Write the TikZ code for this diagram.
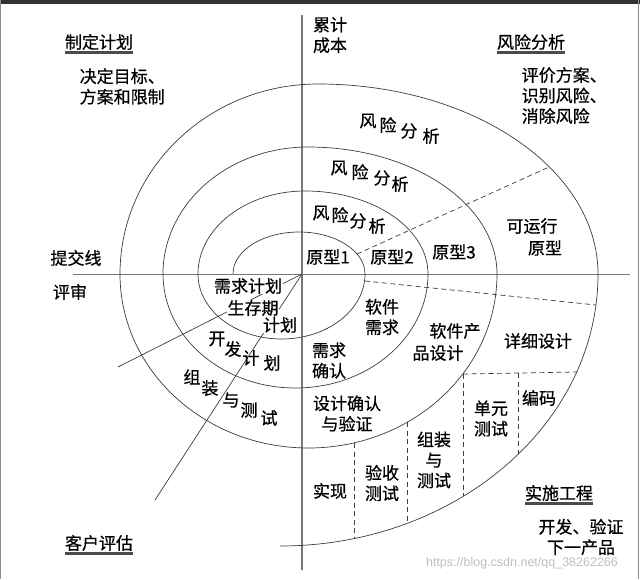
\documentclass[tikz,border=0pt]{standalone}
\usepackage{fontspec}
\setmainfont{Noto Sans CJK SC}[FakeBold=0.6]
\newfontfamily\urlfont{Liberation Sans}
\definecolor{spgray}{RGB}{60,60,60}
\definecolor{axgray}{RGB}{120,120,120}
\usetikzlibrary{positioning}

\begin{document}
\begin{tikzpicture}[x=1pt, y=-1pt, font=\fontsize{17}{20.5}\selectfont,
    spiral/.style={spgray, line width=0.7pt},
    dashline/.style={spgray, line width=0.7pt, dash pattern=on 5pt off 3.5pt},
    axisline/.style={axgray, line width=1.1pt},
    txt/.style={inner sep=0.5pt, align=center},
    coverlbl/.style={txt, fill=white},
    headtxt/.style={inner sep=0pt},
    uline/.style={black!70, line width=2.5pt}]
    \useasboundingbox (0,0) rectangle (640,579);

    % frame of the screenshot
    \fill[black!80] (0,0) rectangle (640,4);
    \draw[black!45, line width=1.2pt] (0.6,0) -- (0.6,579);
    \draw[black!45, line width=1pt] (638.5,0) -- (638.5,579);

    % axes
    \coordinate (O) at (302,274);
    \draw[axisline] (302,15) -- (302,570);
    \draw[axgray, line width=0.6pt] (73,274) -- (630,274);

    % spiral, from the inside out
    \draw[spiral] (233,274)
        arc[start angle=180, end angle=0, x radius=66pt, y radius=42pt]
        arc[start angle=0, end angle=-180, x radius=83.5pt, y radius=65pt]
        arc[start angle=180, end angle=90, x radius=107pt, y radius=83pt]
        arc[start angle=90, end angle=0, x radius=123pt, y radius=83pt]
        arc[start angle=0, end angle=-180, x radius=132.5pt, y radius=114pt]
        arc[start angle=180, end angle=90, x radius=145pt, y radius=127pt]
        arc[start angle=90, end angle=0, x radius=189pt, y radius=127pt]
        arc[start angle=0, end angle=-180, x radius=188.5pt, y radius=174pt]
        arc[start angle=180, end angle=90, x radius=198pt, y radius=190pt]
        arc[start angle=90, end angle=0, x radius=280pt, y radius=190pt]
        arc[start angle=0, end angle=-90, x radius=318pt, y radius=272pt];

    % lines out of the centre
    \coordinate (reviewEnd) at (118,367);
    \coordinate (custEnd) at (155,500);
    \draw[spiral] (O) -- (reviewEnd);
    \draw[spiral] (O) -- (custEnd);

    % dashed dividers
    \draw[dashline] (357,254) -- (549,167);
    \draw[dashline] (365,281) -- (596,305);
    \draw[dashline] (463,374) -- (577,372);
    \draw[dashline] (463,374) -- (463,496);
    \draw[dashline] (518,373) -- (518,454);
    \draw[dashline] (354,443) -- (354,538);
    \draw[dashline] (407,422) -- (407,523);

    % quadrant headings
    \node[headtxt] (plan) at (99,42) {制定计划};
    \draw[uline] ([yshift=-2.5pt]plan.south west) -- ([yshift=-2.5pt]plan.south east);
    \node[txt, align=left, anchor=west] (planTxt) at (79,86.5) {决定目标、\\方案和限制};

    \node[txt, align=left] (cost) at (330,35) {累计\\成本};

    \node[headtxt] (risk) at (531,42) {风险分析};
    \draw[uline] ([yshift=-2.5pt]risk.south west) -- ([yshift=-2.5pt]risk.south east);
    \node[txt, align=left, anchor=west] (riskTxt) at (521,95.5) {评价方案、\\识别风险、\\消除风险};

    \node[headtxt] (eng) at (559,493) {实施工程};
    \draw[uline] ([yshift=-2.5pt]eng.south west) -- ([yshift=-2.5pt]eng.south east);
    \node[txt] (engTxt) at (581,537) {开发、验证\\下一产品};

    \node[headtxt] (cust) at (99,543) {客户评估};
    \draw[uline] ([yshift=-2.5pt]cust.south west) -- ([yshift=-2.5pt]cust.south east);

    \node[txt] (submit) at (76,258) {提交线};
    \node[txt] (review) at (70,292) {评审};

    % risk analysis, three turns
    \node[txt] (ra1) at (368,121) {风};
    \node[txt] (ra2) at (388,125) {险};
    \node[txt] (ra3) at (409,131) {分};
    \node[txt] (ra4) at (431,136) {析};
    \node[txt] (rb1) at (339,168) {风};
    \node[txt] (rb2) at (360,172) {险};
    \node[txt] (rb3) at (382,178) {分};
    \node[txt] (rb4) at (400,184) {析};
    \node[txt] (rc1) at (321,213) {风};
    \node[txt] (rc2) at (340,215) {险};
    \node[txt] (rc3) at (358,221) {分};
    \node[txt] (rc4) at (377,226) {析};

    % prototypes
    \node[txt] (proto1) at (328,257) {原型1};
    \node[txt] (proto2) at (392,257) {原型2};
    \node[txt] (proto3) at (454,252) {原型3};
    \node[txt] (runA) at (532,226) {可运行};
    \node[txt] (runB) at (545,248) {原型};

    % plans
    \node[coverlbl] (reqPlan) at (248,286) {需求计划};
    \node[coverlbl] (lifePlan) at (253,308) {生存期};
    \node[coverlbl] (lifePlanB) at (280,325) {计划};
    \node[txt] (dev1) at (217,339) {开};
    \node[txt] (dev2) at (233,349) {发};
    \node[txt] (dev3) at (251,358) {计};
    \node[txt] (dev4) at (272,363) {划};
    \node[txt] (asm1) at (192,377) {组};
    \node[txt] (asm2) at (210,388) {装};
    \node[txt] (asm3) at (231,400) {与};
    \node[txt] (asm4) at (249,410) {测};
    \node[txt] (asm5) at (269,418) {试};

    % engineering steps
    \node[txt] (swReq) at (382,317) {软件\\需求};
    \node[txt] (reqChk) at (329,360.5) {需求\\确认};
    \node[txt] (prodA) at (455,331) {软件产};
    \node[txt] (prodB) at (438,353) {品设计};
    \node[txt] (detail) at (538,341) {详细设计};
    \node[txt] (verify) at (347,413.5) {设计确认\\与验证};
    \node[txt] (unit) at (491,418.5) {单元\\测试};
    \node[txt] (code) at (539,398) {编码};
    \node[txt] (integ) at (434,460) {组装\\与\\测试};
    \node[txt] (accept) at (382,483) {验收\\测试};
    \node[txt] (impl) at (330,491) {实现};

    \node[text=black!25, font=\urlfont\fontsize{12.5}{14}\selectfont] (mark) at (522,563)
        {https://blog.csdn.net/qq\_38262266};
\end{tikzpicture}
\end{document}
